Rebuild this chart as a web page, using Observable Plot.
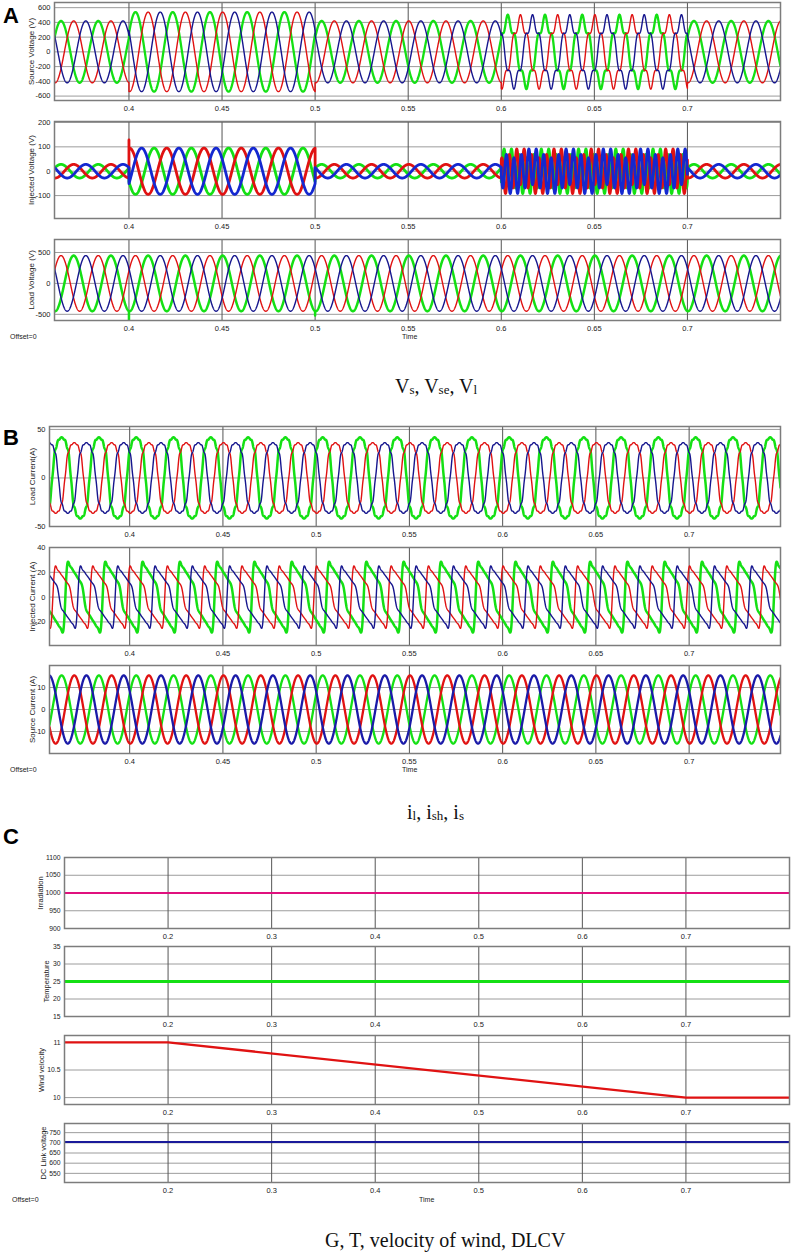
<!DOCTYPE html>
<html><head><meta charset="utf-8">
<script src="https://cdn.jsdelivr.net/npm/d3@7"></script>
<script src="https://cdn.jsdelivr.net/npm/@observablehq/plot@0.6"></script>
<style>
body{margin:0;background:#fff;}
#root{position:relative;width:796px;height:1256px;overflow:hidden;font-family:"Liberation Sans",Arial,sans-serif;background:#fff;}
.lbl{position:absolute;white-space:nowrap;line-height:1;}
.panel{font-weight:bold;font-size:22px;color:#000;}
.cap{font-family:"Liberation Serif","Times New Roman",serif;font-size:20px;color:#111;}
.cap sub{font-size:13px;vertical-align:baseline;position:relative;top:1px;}
.small{font-size:7px;color:#222;}
</style></head><body><div id="root"></div>
<script>
// ================= DATA =================
// Panel A: voltages (time axis in s)
const A_TIME = [0.36, 0.75];
const A_TICKS = [0.4, 0.45, 0.5, 0.55, 0.6, 0.65, 0.7];
const A_SEG_START = [0.36, 0.4, 0.5, 0.6, 0.7];
const A_SEG_END   = [0.4, 0.5, 0.6, 0.7, 0.75];
const SOURCE_V_FUND = [420, 540, 420, 430, 420];  // V, fundamental peak per segment
const SOURCE_V_H5   = [0, 0, 0, 75, 0];           // V, 5th harmonic peak
const INJ_V_FUND    = [28, -95, 28, 20, 28];
const INJ_V_H5      = [0, 0, 0, -75, 0];
const LOAD_V_FUND   = [450, 450, 450, 450, 450];
const LOAD_V_H5     = [0, 0, 0, 0, 0];
// time of a fundamental positive peak for each trace colour
const PEAK_SRC  = {blue: 0.3568, green: 0.3635, red: 0.3703};
const PEAK_LOAD = {blue: 0.3568, green: 0.3703, red: 0.3635};
const A_SPIKES = [
  {plot: "inj",  phase: "red",   t: 0.4, v: 128},
  {plot: "load", phase: "green", t: 0.4, v: -600},
  {plot: "load", phase: "green", t: 0.5, v: -520}
];
const A1_YTICKS = [-600, -400, -200, 0, 200, 400, 600];
const A2_YTICKS = [-100, 0, 100, 200];
const A3_YTICKS = [-500, 0, 500];

// Panel B: currents
const B_TIME = [0.357, 0.749];
const B_TICKS = [0.4, 0.45, 0.5, 0.55, 0.6, 0.65, 0.7];
// load current: cosine series about each phase peak (A)
const LOAD_I_ORDERS = [1, 3, 5, 7, 11, 13];
const LOAD_I_AMPS   = [40, -5, 1.5, -0.5, 1.0, -0.6];
const LOAD_I_GAIN   = {blue: 1, green: 1.15, red: 1};
// injected current: sine series about each phase's steep rise (A)
const INJ_I_ORDERS = [1, 2, 3, 4, 5, 6, 7, 8, 9];
const INJ_I_AMPS   = [24.4, 7.1, 7.1, 2.9, 3.2, 1.3, 1.3, 0.45, 0.3];
const INJ_I_RISE   = {blue: 0.3722, green: 0.3655, red: 0.3588};
const INJ_I_GAIN   = {blue: 0.88, green: 1.0, red: 0.88};
// source current: sinusoidal
const SOURCE_I_ORDERS = [1];
const SOURCE_I_AMPS   = [15.5];
const B1_YTICKS = [-50, 0, 50];
const B2_YTICKS = [-20, 0, 20, 40];
const B3_YTICKS = [-10, 0, 10];

// Panel C: operating conditions
const C_TIME = [0.1, 0.8];
const C_TICKS = [0.2, 0.3, 0.4, 0.5, 0.6, 0.7];
const IRR_T = [0.1, 0.8], IRR_V = [1000, 1000];
const TEMP_T = [0.1, 0.8], TEMP_V = [25, 25];
const WIND_T = [0.1, 0.2, 0.7, 0.8], WIND_V = [11, 11, 10, 10];
const DCL_T = [0.1, 0.8], DCL_V = [704, 704];
const C1_YTICKS = [900, 950, 1000, 1050, 1100];
const C2_YTICKS = [15, 20, 25, 30, 35];
const C3_YTICKS = [10, 10.5, 11];
const C4_YTICKS = [550, 600, 650, 700, 750];

// ================= BUILD =================
const OMEGA = 2 * Math.PI * 50;
const STEP = 0.0001;
const COL = {red: "#e01212", green: "#14e014", blue: "#16168e", blue2: "#1428d0", mag: "#e0107e"};
const FONT = '"Liberation Sans", Arial, Helvetica, sans-serif';
const W = 796;
const root = document.getElementById("root");

function segWave(fund, h5, peak, plot, phase) {
  const pts = [];
  for (let i = 0; i < A_SEG_START.length; i++) {
    const a = A_SEG_START[i], b = A_SEG_END[i];
    const n = Math.round((b - a) / STEP);
    for (let k = 0; k <= n; k++) {
      const t = a + (b - a) * k / n;
      const ph = OMEGA * (t - peak);
      pts.push({t, v: fund[i] * Math.cos(ph) + h5[i] * Math.cos(5 * ph)});
    }
    const sp = A_SPIKES.find(s => s.plot === plot && s.phase === phase && Math.abs(s.t - b) < 1e-9);
    if (sp) pts.push({t: sp.t, v: sp.v});
  }
  return pts;
}
function harmWave(dom, orders, amps, gain, t0, basis) {
  const pts = [];
  const f = basis === "sin" ? Math.sin : Math.cos;
  const n = Math.round((dom[1] - dom[0]) / STEP);
  for (let k = 0; k <= n; k++) {
    const t = dom[0] + (dom[1] - dom[0]) * k / n;
    const ph = OMEGA * (t - t0);
    let v = 0;
    orders.forEach((h, j) => { v += amps[j] * f(h * ph); });
    pts.push({t, v: v * gain});
  }
  return pts;
}
function series(T, V) { return T.map((t, i) => ({t, v: V[i]})); }

function addPlot(cfg) {
  const mt = 6, mb = 16;
  const h = cfg.bottom - cfg.top;
  const fs = cfg.tickSize || 7.5;
  const marks = [
    Plot.gridY(cfg.yTicks, {stroke: "#9c9c9c", strokeOpacity: 1, strokeWidth: 1}),
    Plot.gridX(cfg.xTicks, {stroke: "#555", strokeOpacity: 1, strokeWidth: 1}),
    ...cfg.lines.map(l => Plot.line(l.data, {x: "t", y: "v", stroke: l.color, strokeWidth: l.width, clip: true})),
    Plot.frame({stroke: "#7c7c7c", strokeWidth: 1.5}),
    Plot.axisX(cfg.xTicks, {tickSize: 0, tickPadding: 5, tickFormat: d => String(d), label: null, fill: "#222", fontSize: 7.5}),
    Plot.axisY(cfg.yTicks, {tickSize: 0, tickPadding: 4, tickFormat: d => String(d), label: null, fill: "#222", fontSize: fs}),
    Plot.text([cfg.yLabel], {text: d => d, frameAnchor: "left", dx: cfg.yLabelX - cfg.left, rotate: -90,
      fontSize: cfg.yLabelSize || 8, fill: "#222", textAnchor: "middle"})
  ];
  const svg = Plot.plot({
    width: W, height: h + mt + mb,
    marginTop: mt, marginBottom: mb, marginLeft: cfg.left, marginRight: W - cfg.right,
    x: {domain: cfg.xDomain}, y: {domain: cfg.yDomain},
    style: {fontFamily: FONT, fontSize: "7.5px", color: "#222", background: "transparent", overflow: "visible"},
    marks
  });
  svg.style.position = "absolute";
  svg.style.left = "0px";
  svg.style.top = (cfg.top - mt) + "px";
  root.appendChild(svg);
}
function addText(html, cls, left, top) {
  const d = document.createElement("div");
  d.className = "lbl " + cls;
  d.innerHTML = html;
  d.style.left = left + "px";
  d.style.top = top + "px";
  root.appendChild(d);
}

// ---------- Panel A ----------
const ORDER = ["green", "red", "blue"];
const A_LEFT = 54, A_RIGHT = 780;
addPlot({top: 2, bottom: 100, left: A_LEFT, right: A_RIGHT, xDomain: A_TIME, xTicks: A_TICKS,
  yDomain: [-660, 670], yTicks: A1_YTICKS, yLabel: "Source Voltage (V)", yLabelX: 30.5,
  lines: ORDER.map(p => ({data: segWave(SOURCE_V_FUND, SOURCE_V_H5, PEAK_SRC[p], "src", p),
    color: COL[p], width: p === "green" ? 2.3 : 1.4}))});
addPlot({top: 121, bottom: 218, left: A_LEFT, right: A_RIGHT, xDomain: A_TIME, xTicks: A_TICKS,
  yDomain: [-194, 204], yTicks: A2_YTICKS, yLabel: "Injected Voltage (V)", yLabelX: 31,
  lines: ORDER.map(p => ({data: segWave(INJ_V_FUND, INJ_V_H5, PEAK_SRC[p], "inj", p),
    color: p === "blue" ? COL.blue2 : COL[p], width: 2.8}))});
addPlot({top: 239, bottom: 320, left: A_LEFT, right: A_RIGHT, xDomain: A_TIME, xTicks: A_TICKS,
  yDomain: [-600, 710], yTicks: A3_YTICKS, yLabel: "Load Voltage (V)", yLabelX: 31,
  lines: ORDER.map(p => ({data: segWave(LOAD_V_FUND, LOAD_V_H5, PEAK_LOAD[p], "load", p),
    color: COL[p], width: p === "green" ? 2.5 : 1.4}))});

// ---------- Panel B ----------
const B_LEFT = 49, B_RIGHT = 780;
addPlot({top: 426, bottom: 526, left: B_LEFT, right: B_RIGHT, xDomain: B_TIME, xTicks: B_TICKS,
  yDomain: [-50, 53], yTicks: B1_YTICKS, yLabel: "Load Current(A)", yLabelX: 32,
  lines: ORDER.map(p => ({data: harmWave(B_TIME, LOAD_I_ORDERS, LOAD_I_AMPS, LOAD_I_GAIN[p], PEAK_SRC[p], "cos"),
    color: COL[p], width: p === "green" ? 2.5 : 1.4}))});
addPlot({top: 547, bottom: 645, left: B_LEFT, right: B_RIGHT, xDomain: B_TIME, xTicks: B_TICKS,
  yDomain: [-39, 40], yTicks: B2_YTICKS, yLabel: "Injected Current (A)", yLabelX: 32,
  lines: ORDER.map(p => ({data: harmWave(B_TIME, INJ_I_ORDERS, INJ_I_AMPS, INJ_I_GAIN[p], INJ_I_RISE[p], "sin"),
    color: COL[p], width: p === "green" ? 2.5 : 1.4}))});
addPlot({top: 665, bottom: 753, left: B_LEFT, right: B_RIGHT, xDomain: B_TIME, xTicks: B_TICKS,
  yDomain: [-20, 20], yTicks: B3_YTICKS, yLabel: "Source Current (A)", yLabelX: 32,
  lines: ORDER.map(p => ({data: harmWave(B_TIME, SOURCE_I_ORDERS, SOURCE_I_AMPS, 1, PEAK_SRC[p], "cos"),
    color: p === "blue" ? "#1a1aa8" : COL[p], width: 2.3}))});

// ---------- Panel C ----------
const C_LEFT = 64, C_RIGHT = 789;
addPlot({top: 857, bottom: 928, left: C_LEFT, right: C_RIGHT, xDomain: C_TIME, xTicks: C_TICKS,
  yDomain: [900, 1100], yTicks: C1_YTICKS, yLabel: "Irradiation", yLabelX: 40, yLabelSize: 7.5, tickSize: 6.8,
  lines: [{data: series(IRR_T, IRR_V), color: COL.mag, width: 2}]});
addPlot({top: 946, bottom: 1016, left: C_LEFT, right: C_RIGHT, xDomain: C_TIME, xTicks: C_TICKS,
  yDomain: [15, 35], yTicks: C2_YTICKS, yLabel: "Temperature", yLabelX: 46, yLabelSize: 7.5, tickSize: 6.8,
  lines: [{data: series(TEMP_T, TEMP_V), color: COL.green, width: 3}]});
addPlot({top: 1035, bottom: 1104, left: C_LEFT, right: C_RIGHT, xDomain: C_TIME, xTicks: C_TICKS,
  yDomain: [9.875, 11.125], yTicks: C3_YTICKS, yLabel: "Wind velocity", yLabelX: 41, yLabelSize: 7.5, tickSize: 6.8,
  lines: [{data: series(WIND_T, WIND_V), color: COL.red, width: 2.3}]});
addPlot({top: 1123, bottom: 1182, left: C_LEFT, right: C_RIGHT, xDomain: C_TIME, xTicks: C_TICKS,
  yDomain: [505, 795], yTicks: C4_YTICKS, yLabel: "DC Link voltage", yLabelX: 43, yLabelSize: 7.5, tickSize: 6.8,
  lines: [{data: series(DCL_T, DCL_V), color: "#1a1a9a", width: 2.2}]});

// ---------- Text ----------
addText("A", "panel", 3, 5);
addText("B", "panel", 3, 427);
addText("C", "panel", 3, 826);
addText("Offset=0", "small", 10, 333);
addText("Offset=0", "small", 10, 766);
addText("Offset=0", "small", 12, 1196);
addText("Time", "small", 402, 333);
addText("Time", "small", 402, 766);
addText("Time", "small", 419, 1196);
addText("V<sub>s</sub>, V<sub>se</sub>, V<sub>l</sub>", "cap", 395, 376);
addText("i<sub>l</sub>, i<sub>sh</sub>, i<sub>s</sub>", "cap", 407, 802);
addText("G, T, velocity of wind, DLCV", "cap", 325, 1230);
</script></body></html>
